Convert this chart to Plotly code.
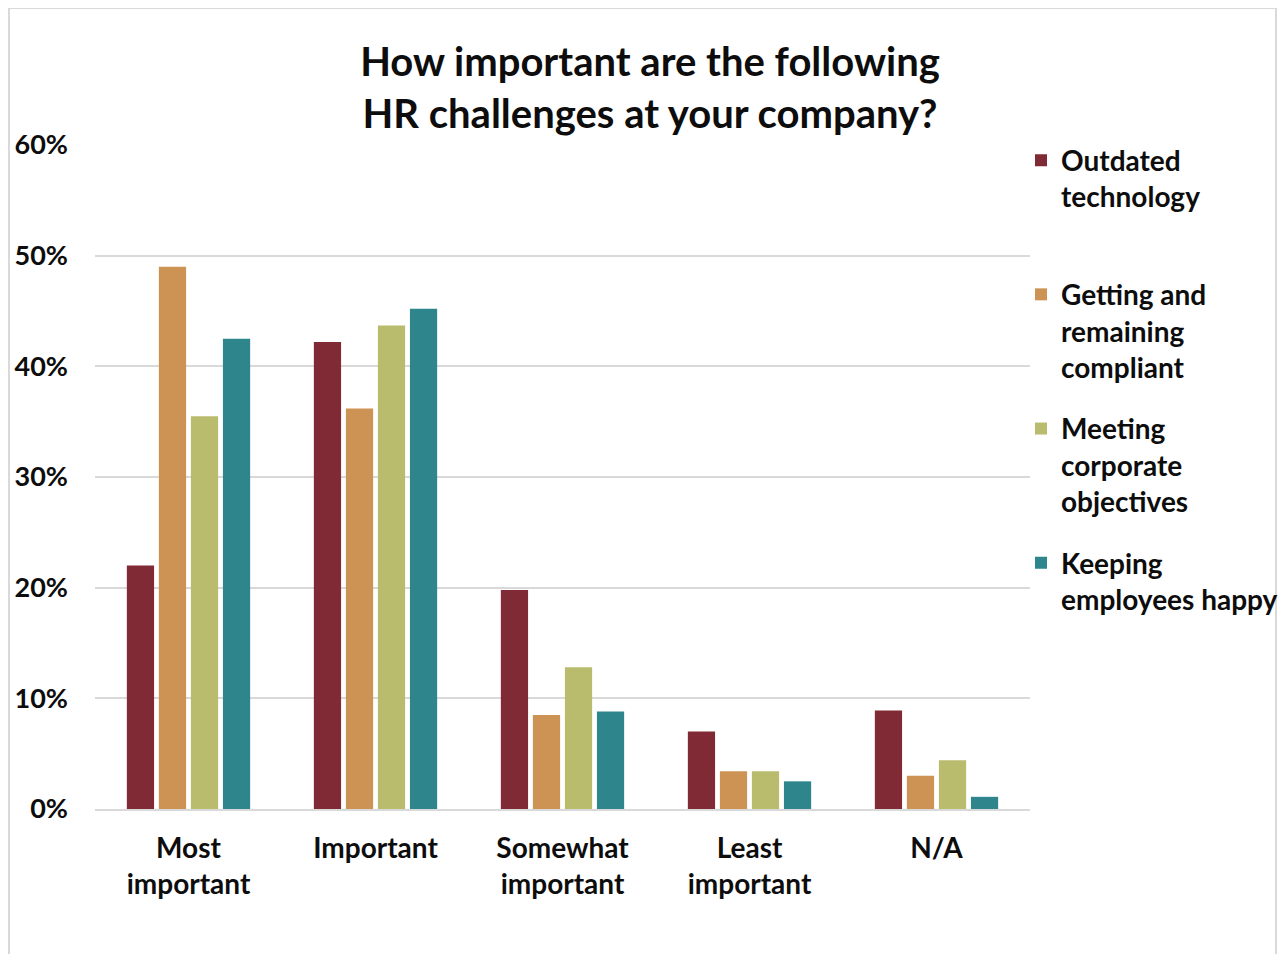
import plotly.graph_objects as go

categories = ["Most<br>important", "Important", "Somewhat<br>important", "Least<br>important", "N/A"]
series_names = ["Outdated<br>technology<br>&nbsp;", "Getting and<br>remaining<br>compliant",
                "Meeting<br>corporate<br>objectives", "Keeping<br>employees happy<br>&nbsp;"]
outdated = [0.22, 0.422, 0.198, 0.070, 0.089]
compliant = [0.49, 0.362, 0.085, 0.034, 0.030]
objectives = [0.355, 0.437, 0.128, 0.034, 0.044]
happy = [0.425, 0.452, 0.088, 0.025, 0.011]
colors = ["#7F2A35", "#CC9355", "#B8BC6C", "#2E868C"]
y_ticks = [0, 0.1, 0.2, 0.3, 0.4, 0.5, 0.6]
y_tick_labels = ["0%", "10%", "20%", "30%", "40%", "50%", "60%"]

FONT = "Lato"
TXT = "#0D0D0D"
fig = go.Figure()
for i, (name, vals, col) in enumerate(zip(series_names, [outdated, compliant, objectives, happy], colors)):
    fig.add_trace(go.Bar(x=categories, y=vals, name="<b>%s</b>" % name, marker_color=col,
                         marker_line_width=0, legendgroup="g%d" % i))

# page has an 8px body margin; keep the figure inside the window (no scrollbars)
OFF = 8
W, H = 1286 - 2 * OFF, 962 - 2 * OFF
L, T = 95 - OFF, 145 - OFF
R = W - (1030 - OFF)
B = H - (809 - OFF)
pw, ph = W - L - R, H - T - B

fig.update_layout(
    width=W, height=H,
    margin=dict(l=L, r=R, t=T, b=B, autoexpand=False),
    paper_bgcolor="white", plot_bgcolor="white",
    barmode="group", bargap=0.315, bargroupgap=0.15,
    font=dict(family=FONT, color=TXT),
    title=dict(text="<b>How important are the following<br>HR challenges at your company?</b>",
               x=(650 - OFF) / W, xanchor="center", yref="container",
               y=1 - (76 - OFF) / H, yanchor="middle",
               font=dict(size=40, family=FONT, color=TXT)),
    legend=dict(x=(1021 - OFF - L) / pw, y=1.0144, xanchor="left", yanchor="top",
                font=dict(size=28, family=FONT, color=TXT),
                valign="top", tracegroupgap=22, itemwidth=30, maxheight=800,
                bgcolor="rgba(0,0,0,0)"),
    showlegend=True,
)
fig.update_xaxes(tickvals=categories, ticktext=["<b>%s</b>" % c for c in categories],
                 tickfont=dict(size=28, family=FONT, color=TXT),
                 showline=True, linecolor="#D9D9D9", linewidth=2,
                 ticks="", showgrid=False, ticklabelstandoff=13)
fig.update_yaxes(range=[0, 0.6], tickvals=y_ticks, ticktext=["<b>%s</b>" % t for t in y_tick_labels],
                 tickfont=dict(size=27, family=FONT, color=TXT),
                 showgrid=True, gridcolor="#D9D9D9", gridwidth=2,
                 zeroline=False, ticks="", showline=False, ticklabelstandoff=26)

# outer border
fig.add_shape(type="rect", xref="paper", yref="paper",
              x0=(1 - L) / pw, x1=(W - 2 - L) / pw,
              y0=-(B + 20) / ph, y1=(T + ph - 0) / ph,
              line=dict(color="#D9D9D9", width=2), fillcolor="rgba(0,0,0,0)", layer="below")

fig.write_html("out.html")
